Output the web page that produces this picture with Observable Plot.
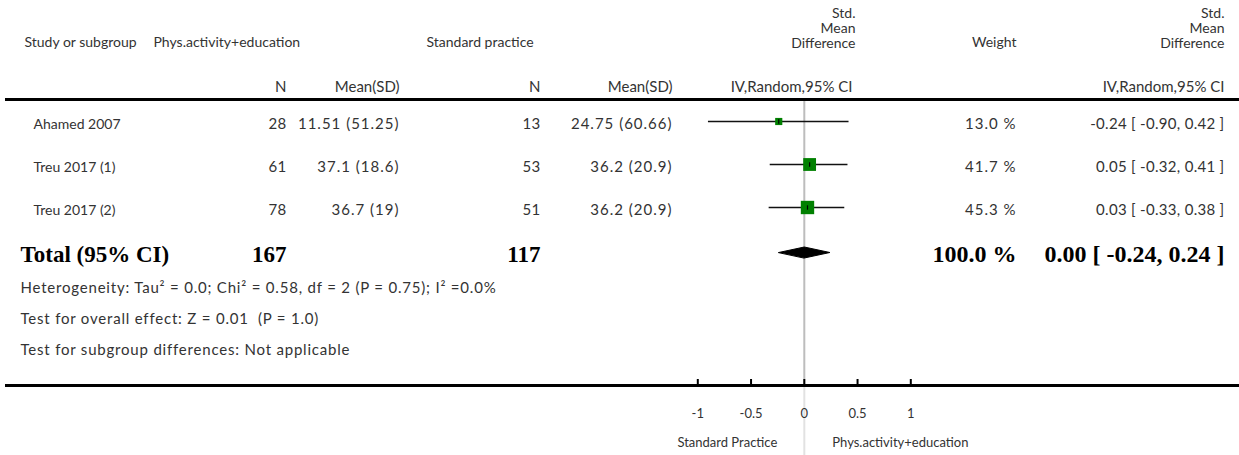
<!DOCTYPE html>
<html><head><meta charset="utf-8">
<script src="https://cdn.jsdelivr.net/npm/d3@7"></script>
<script src="https://cdn.jsdelivr.net/npm/@observablehq/plot@0.6"></script>
<style>body{margin:0;background:#fff}</style>
</head><body><div id="chart"></div>
<script>
// ---- data ----
const studies = ["Ahamed 2007", "Treu 2017 (1)", "Treu 2017 (2)"];
const nExp = [28, 61, 78];
const meanSdExp = ["11.51 (51.25)", "37.1 (18.6)", "36.7 (19)"];
const nCtl = [13, 53, 51];
const meanSdCtl = ["24.75 (60.66)", "36.2 (20.9)", "36.2 (20.9)"];
const smd = [-0.24, 0.05, 0.03];
const lower = [-0.90, -0.32, -0.33];
const upper = [0.42, 0.41, 0.38];
const weights = [13.0, 41.7, 45.3];
const totalN = [167, 117];
const totalEffect = [0.00, -0.24, 0.24];
const totalWeight = 100.0;
const totalLabel = "Total (95% CI)";
const footnotes = [
  "Heterogeneity: Tau² = 0.0; Chi² = 0.58, df = 2 (P = 0.75); I² =0.0%",
  "Test for overall effect: Z = 0.01  (P = 1.0)",
  "Test for subgroup differences: Not applicable"
];
const xTicks = [-1, -0.5, 0, 0.5, 1];
const tickLabels = ["-1", "-0.5", "0", "0.5", "1"];
const favourLeft = "Standard Practice";
const favourRight = "Phys.activity+education";
const headers = {
  study: "Study or subgroup", exp: "Phys.activity+education", ctl: "Standard practice",
  n: "N", mean: "Mean(SD)", smd: "Std.\nMean\nDifference", method: "IV,Random,95% CI", weight: "Weight"
};

// ---- layout ----
const W = 1239, H = 455, ML = 5;
const FONT = "Lato, 'Open Sans', sans-serif";
const SERIF = "'Liberation Serif', 'DejaVu Serif', serif";
const TXT = "#333";
const Y = {head: 42, sub: 87, line: 99, row0: 124, step: 43, total: 254, notes: [288, 319, 350], axis: 385, tick: 413, side: 442};
const C = {studyHead: 24, study: 33, total: 20, expHead: 153, ctlHead: 426, n1: 286, m1: 399, n2: 540, m2: 672, fHead: 855, weight: 1016, ci: 1224};
const at = (px, anchor = "end") => ({frameAnchor: "left", dx: px - ML, textAnchor: anchor});
const idx = studies.map((_, i) => i);
const rowY = i => Y.row0 + i * Y.step;
const markY = i => rowY(i) - 3;
const fmt2 = v => v.toFixed(2);
const ciText = (e, l, u) => `${fmt2(e)} [ ${fmt2(l)}, ${fmt2(u)} ]`;
const base = {fill: TXT, fontFamily: FONT, fontSize: 15};
const head = {...base, fontSize: 14};
const bold = {fill: "#000", fontFamily: SERIF, fontSize: 24, fontWeight: "bold"};

const vbar = {draw(ctx, size) { const h = Math.sqrt(size / Math.PI); ctx.moveTo(0, -h); ctx.lineTo(0, h); }};
const dy = 5.5;
const diamond = [
  {x: totalEffect[1], y: Y.total - 2},
  {x: totalEffect[0], y: Y.total - 2 - dy},
  {x: totalEffect[2], y: Y.total - 2},
  {x: totalEffect[0], y: Y.total - 2 + dy}
];

const one = [0];
const plot = Plot.plot({
  width: W, height: H,
  marginLeft: ML, marginRight: 0, marginTop: 0, marginBottom: 0,
  x: {domain: [-1, 1], range: [697.3, 910.3], axis: null},
  y: {domain: [0, H], range: [0, H], axis: null},
  r: {type: "sqrt", domain: [0, 100], range: [0, 11.2]},
  style: {background: "#fff"},
  marks: [
    // zero line
    Plot.ruleX([0], {y1: Y.line + 1, y2: Y.axis, stroke: "#bdbdbd", strokeWidth: 2}),
    Plot.ruleX([0], {y1: Y.axis, y2: H, stroke: "#e2e2e2", strokeWidth: 2}),
    // thick rules
    Plot.ruleY([Y.line, Y.axis], {stroke: "#000", strokeWidth: 3.2}),
    // axis ticks
    Plot.ruleX(xTicks, {x: d => d, y1: Y.axis - 6, y2: Y.axis, stroke: "#000", strokeWidth: 2}),
    Plot.text(xTicks, {x: d => d, y: () => Y.tick, text: (d, i) => tickLabels[i], ...base, fontSize: 13}),
    Plot.text([favourLeft], {x: () => 0, dx: -27, y: () => Y.side, text: d => d, textAnchor: "end", ...base, fontSize: 13}),
    Plot.text([favourRight], {x: () => 0, dx: 28, y: () => Y.side, text: d => d, textAnchor: "start", ...base, fontSize: 13}),
    // headers
    Plot.text(one, {y: () => Y.head, text: () => headers.study, ...at(C.studyHead, "start"), ...head}),
    Plot.text(one, {y: () => Y.head, text: () => headers.exp, ...at(C.expHead, "start"), ...head}),
    Plot.text(one, {y: () => Y.head, text: () => headers.ctl, ...at(C.ctlHead, "start"), ...head}),
    Plot.text(one, {y: () => Y.head - 14.5, text: () => headers.smd, ...at(C.fHead), ...head, lineHeight: 1.06}),
    Plot.text(one, {y: () => Y.head - 14.5, text: () => headers.smd, ...at(C.ci), ...head, lineHeight: 1.06}),
    Plot.text(one, {y: () => Y.head, text: () => headers.weight, ...at(C.weight), ...head}),
    Plot.text(one, {y: () => Y.sub, text: () => headers.n, ...at(C.n1), ...base}),
    Plot.text(one, {y: () => Y.sub, text: () => headers.n, ...at(C.n2), ...base}),
    Plot.text(one, {y: () => Y.sub, text: () => headers.mean, ...at(C.m1), ...base}),
    Plot.text(one, {y: () => Y.sub, text: () => headers.mean, ...at(C.m2), ...base}),
    Plot.text(one, {y: () => Y.sub, text: () => headers.method, ...at(C.fHead - 3), ...base}),
    Plot.text(one, {y: () => Y.sub, text: () => headers.method, ...at(C.ci), ...base}),
    // study rows
    Plot.text(idx, {y: rowY, text: i => studies[i], ...at(C.study, "start"), ...head}),
    Plot.text(idx, {y: rowY, text: i => String(nExp[i]), ...at(C.n1), ...base, ariaDescription: "num"}),
    Plot.text(idx, {y: rowY, text: i => meanSdExp[i], ...at(C.m1), ...base, ariaDescription: "num-wide"}),
    Plot.text(idx, {y: rowY, text: i => String(nCtl[i]), ...at(C.n2), ...base, ariaDescription: "num"}),
    Plot.text(idx, {y: rowY, text: i => meanSdCtl[i], ...at(C.m2), ...base, ariaDescription: "num-wide"}),
    Plot.text(idx, {y: rowY, text: i => `${weights[i].toFixed(1)} %`, ...at(C.weight), ...base, ariaDescription: "num-wide"}),
    Plot.text(idx, {y: rowY, text: i => ciText(smd[i], lower[i], upper[i]), ...at(C.ci), ...base, ariaDescription: "num"}),
    // forest marks
    Plot.ruleY(idx, {y: markY, x1: i => lower[i], x2: i => upper[i], stroke: "#111", strokeWidth: 1.5}),
    Plot.dot(idx, {x: i => smd[i], y: markY, r: i => weights[i], symbol: "square", fill: "#008000", stroke: null}),
    Plot.dot(idx, {x: i => smd[i], y: markY, r: 2.2, symbol: vbar, stroke: "#000", strokeWidth: 1.2, fill: "none"}),
    // total row
    Plot.text(one, {y: () => Y.total, text: () => totalLabel, ...at(C.total, "start"), ...bold, fontSize: 23}),
    Plot.text(one, {y: () => Y.total, text: () => String(totalN[0]), ...at(C.n1), ...bold, fontSize: 23}),
    Plot.text(one, {y: () => Y.total, text: () => String(totalN[1]), ...at(C.n2), ...bold, fontSize: 23}),
    Plot.text(one, {y: () => Y.total, text: () => `${totalWeight.toFixed(1)} %`, ...at(C.weight), ...bold}),
    Plot.text(one, {y: () => Y.total, text: () => ciText(...totalEffect), ...at(C.ci), ...bold}),
    Plot.line(diamond, {x: "x", y: "y", curve: "linear-closed", fill: "#000", stroke: "#000", strokeWidth: 1}),
    // footnotes
    Plot.text(footnotes, {y: (d, i) => Y.notes[i], text: d => d, ...at(C.total, "start"), ...base, ariaDescription: "notes"})
  ]
});
const spacing = {"num-wide": "1px", "num": "0.3px", "notes": "0.8px"};
for (const [k, v] of Object.entries(spacing)) {
  d3.select(plot).selectAll(`g[aria-description="${k}"] text`).style("letter-spacing", v);
}
document.getElementById("chart").appendChild(plot);
</script></body></html>
